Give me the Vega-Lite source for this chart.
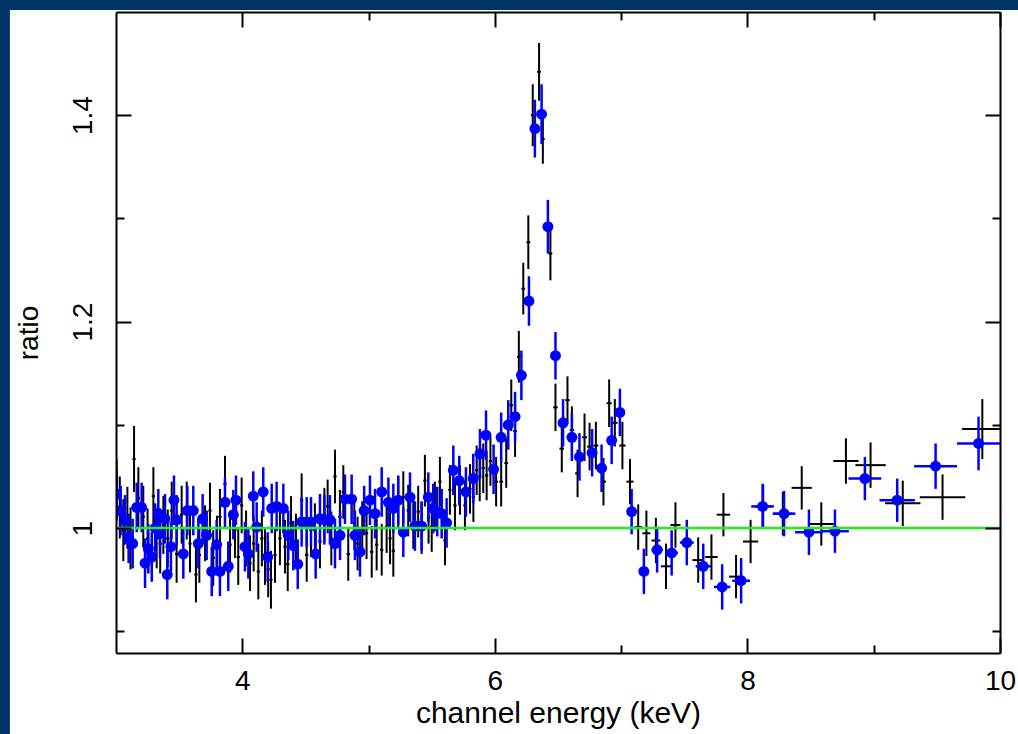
{
  "$schema": "https://vega.github.io/schema/vega-lite/v6.json",
  "autosize": {"type": "none"},
  "width": 884,
  "height": 641,
  "padding": {"left": 116, "top": 12, "right": 18, "bottom": 81},
  "background": "#003366",
  "config": {
    "view": {"stroke": null},
    "axis": {
      "labelFont": "Liberation Sans", "labelFontSize": 28, "labelColor": "black",
      "titleFont": "Liberation Sans", "titleFontSize": 28, "titleFontWeight": "normal", "titleColor": "black",
      "domainColor": "black", "domainWidth": 2, "tickColor": "black", "tickWidth": 2,
      "grid": false, "zindex": 2
    }
  },
  "datasets": {
    "black": [
      {"x":3.005,"xe":0.013,"y":1.037,"ye":0.03},
      {"x":3.03,"xe":0.013,"y":1.02,"ye":0.03},
      {"x":3.058,"xe":0.013,"y":0.998,"ye":0.03},
      {"x":3.09,"xe":0.013,"y":1.01,"ye":0.03},
      {"x":3.115,"xe":0.013,"y":0.99,"ye":0.03},
      {"x":3.143,"xe":0.013,"y":1.067,"ye":0.032},
      {"x":3.177,"xe":0.013,"y":1.029,"ye":0.03},
      {"x":3.216,"xe":0.013,"y":1.011,"ye":0.03},
      {"x":3.25,"xe":0.013,"y":0.99,"ye":0.029},
      {"x":3.296,"xe":0.013,"y":1.031,"ye":0.028},
      {"x":3.322,"xe":0.013,"y":0.99,"ye":0.029},
      {"x":3.35,"xe":0.013,"y":0.985,"ye":0.029},
      {"x":3.375,"xe":0.013,"y":1.003,"ye":0.028},
      {"x":3.41,"xe":0.013,"y":0.99,"ye":0.028},
      {"x":3.441,"xe":0.013,"y":1.017,"ye":0.028},
      {"x":3.48,"xe":0.013,"y":0.975,"ye":0.028},
      {"x":3.52,"xe":0.013,"y":1.013,"ye":0.028},
      {"x":3.56,"xe":0.013,"y":1.017,"ye":0.028},
      {"x":3.586,"xe":0.013,"y":0.985,"ye":0.028},
      {"x":3.633,"xe":0.013,"y":0.955,"ye":0.027},
      {"x":3.66,"xe":0.013,"y":0.974,"ye":0.027},
      {"x":3.705,"xe":0.013,"y":0.995,"ye":0.027},
      {"x":3.744,"xe":0.013,"y":1.017,"ye":0.027},
      {"x":3.77,"xe":0.013,"y":0.971,"ye":0.027},
      {"x":3.8,"xe":0.013,"y":0.985,"ye":0.027},
      {"x":3.823,"xe":0.013,"y":1.011,"ye":0.027},
      {"x":3.863,"xe":0.013,"y":1.043,"ye":0.027},
      {"x":3.903,"xe":0.013,"y":0.984,"ye":0.027},
      {"x":3.942,"xe":0.013,"y":0.998,"ye":0.027},
      {"x":3.968,"xe":0.013,"y":0.972,"ye":0.027},
      {"x":3.995,"xe":0.013,"y":1.022,"ye":0.027},
      {"x":4.03,"xe":0.013,"y":0.99,"ye":0.027},
      {"x":4.061,"xe":0.013,"y":0.966,"ye":0.027},
      {"x":4.09,"xe":0.013,"y":0.985,"ye":0.027},
      {"x":4.127,"xe":0.013,"y":0.958,"ye":0.027},
      {"x":4.155,"xe":0.013,"y":0.99,"ye":0.027},
      {"x":4.18,"xe":0.013,"y":0.972,"ye":0.027},
      {"x":4.205,"xe":0.013,"y":0.96,"ye":0.027},
      {"x":4.227,"xe":0.013,"y":0.95,"ye":0.028},
      {"x":4.259,"xe":0.013,"y":0.974,"ye":0.027},
      {"x":4.298,"xe":0.013,"y":0.99,"ye":0.026},
      {"x":4.338,"xe":0.013,"y":0.982,"ye":0.026},
      {"x":4.36,"xe":0.013,"y":0.965,"ye":0.026},
      {"x":4.386,"xe":0.013,"y":1.005,"ye":0.026},
      {"x":4.425,"xe":0.013,"y":0.988,"ye":0.026},
      {"x":4.47,"xe":0.013,"y":1.027,"ye":0.026},
      {"x":4.51,"xe":0.013,"y":0.974,"ye":0.026},
      {"x":4.544,"xe":0.013,"y":0.998,"ye":0.026},
      {"x":4.575,"xe":0.013,"y":0.998,"ye":0.026},
      {"x":4.615,"xe":0.013,"y":0.987,"ye":0.026},
      {"x":4.65,"xe":0.013,"y":1.013,"ye":0.026},
      {"x":4.676,"xe":0.013,"y":1.021,"ye":0.026},
      {"x":4.705,"xe":0.013,"y":0.99,"ye":0.026},
      {"x":4.734,"xe":0.013,"y":1.05,"ye":0.026},
      {"x":4.773,"xe":0.013,"y":1.011,"ye":0.026},
      {"x":4.8,"xe":0.013,"y":1.035,"ye":0.026},
      {"x":4.839,"xe":0.013,"y":0.975,"ye":0.026},
      {"x":4.887,"xe":0.013,"y":1.005,"ye":0.026},
      {"x":4.913,"xe":0.013,"y":0.985,"ye":0.026},
      {"x":4.95,"xe":0.013,"y":1.0,"ye":0.026},
      {"x":4.984,"xe":0.013,"y":0.995,"ye":0.025},
      {"x":5.025,"xe":0.013,"y":0.977,"ye":0.025},
      {"x":5.064,"xe":0.013,"y":0.984,"ye":0.025},
      {"x":5.104,"xe":0.013,"y":0.979,"ye":0.025},
      {"x":5.143,"xe":0.013,"y":1.001,"ye":0.025},
      {"x":5.17,"xe":0.013,"y":0.99,"ye":0.025},
      {"x":5.196,"xe":0.013,"y":0.978,"ye":0.025},
      {"x":5.235,"xe":0.013,"y":1.024,"ye":0.025},
      {"x":5.275,"xe":0.013,"y":1.03,"ye":0.025},
      {"x":5.314,"xe":0.013,"y":1.017,"ye":0.025},
      {"x":5.354,"xe":0.013,"y":1.005,"ye":0.025},
      {"x":5.393,"xe":0.013,"y":1.016,"ye":0.025},
      {"x":5.42,"xe":0.013,"y":1.0,"ye":0.025},
      {"x":5.446,"xe":0.013,"y":1.046,"ye":0.025},
      {"x":5.475,"xe":0.013,"y":1.01,"ye":0.025},
      {"x":5.5,"xe":0.013,"y":1.001,"ye":0.024},
      {"x":5.525,"xe":0.013,"y":1.021,"ye":0.024},
      {"x":5.565,"xe":0.013,"y":1.045,"ye":0.024},
      {"x":5.605,"xe":0.013,"y":0.988,"ye":0.024},
      {"x":5.644,"xe":0.013,"y":1.037,"ye":0.024},
      {"x":5.684,"xe":0.013,"y":1.022,"ye":0.024},
      {"x":5.724,"xe":0.013,"y":1.037,"ye":0.024},
      {"x":5.763,"xe":0.013,"y":1.022,"ye":0.024},
      {"x":5.803,"xe":0.013,"y":1.038,"ye":0.024},
      {"x":5.83,"xe":0.013,"y":1.03,"ye":0.024},
      {"x":5.856,"xe":0.013,"y":1.056,"ye":0.024},
      {"x":5.88,"xe":0.013,"y":1.05,"ye":0.024},
      {"x":5.908,"xe":0.013,"y":1.058,"ye":0.024},
      {"x":5.935,"xe":0.013,"y":1.051,"ye":0.024},
      {"x":5.965,"xe":0.013,"y":1.065,"ye":0.024},
      {"x":6.01,"xe":0.015,"y":1.045,"ye":0.024},
      {"x":6.05,"xe":0.015,"y":1.045,"ye":0.024},
      {"x":6.09,"xe":0.015,"y":1.063,"ye":0.024},
      {"x":6.13,"xe":0.015,"y":1.119,"ye":0.025},
      {"x":6.16,"xe":0.015,"y":1.094,"ye":0.025},
      {"x":6.19,"xe":0.015,"y":1.166,"ye":0.025},
      {"x":6.225,"xe":0.015,"y":1.232,"ye":0.025},
      {"x":6.265,"xe":0.015,"y":1.277,"ye":0.026},
      {"x":6.3,"xe":0.015,"y":1.4,"ye":0.03},
      {"x":6.35,"xe":0.015,"y":1.442,"ye":0.028},
      {"x":6.38,"xe":0.015,"y":1.377,"ye":0.024},
      {"x":6.44,"xe":0.015,"y":1.266,"ye":0.026},
      {"x":6.48,"xe":0.018,"y":1.117,"ye":0.023},
      {"x":6.53,"xe":0.018,"y":1.077,"ye":0.023},
      {"x":6.575,"xe":0.018,"y":1.124,"ye":0.023},
      {"x":6.61,"xe":0.018,"y":1.095,"ye":0.023},
      {"x":6.655,"xe":0.02,"y":1.053,"ye":0.023},
      {"x":6.71,"xe":0.02,"y":1.088,"ye":0.023},
      {"x":6.75,"xe":0.02,"y":1.079,"ye":0.023},
      {"x":6.8,"xe":0.02,"y":1.08,"ye":0.023},
      {"x":6.86,"xe":0.02,"y":1.045,"ye":0.023},
      {"x":6.905,"xe":0.02,"y":1.121,"ye":0.023},
      {"x":6.95,"xe":0.022,"y":1.102,"ye":0.023},
      {"x":7.01,"xe":0.025,"y":1.08,"ye":0.023},
      {"x":7.07,"xe":0.028,"y":1.045,"ye":0.022},
      {"x":7.135,"xe":0.03,"y":1.001,"ye":0.022},
      {"x":7.2,"xe":0.032,"y":0.995,"ye":0.022},
      {"x":7.275,"xe":0.035,"y":0.988,"ye":0.022},
      {"x":7.355,"xe":0.04,"y":0.963,"ye":0.022},
      {"x":7.43,"xe":0.04,"y":1.003,"ye":0.022},
      {"x":7.61,"xe":0.045,"y":0.969,"ye":0.022},
      {"x":7.715,"xe":0.05,"y":0.972,"ye":0.022},
      {"x":7.81,"xe":0.053,"y":1.013,"ye":0.021},
      {"x":7.91,"xe":0.055,"y":0.953,"ye":0.021},
      {"x":8.025,"xe":0.06,"y":0.987,"ye":0.021},
      {"x":8.125,"xe":0.065,"y":1.021,"ye":0.021},
      {"x":8.28,"xe":0.075,"y":1.014,"ye":0.021},
      {"x":8.43,"xe":0.08,"y":1.039,"ye":0.021},
      {"x":8.585,"xe":0.1,"y":1.004,"ye":0.021},
      {"x":8.78,"xe":0.1,"y":1.065,"ye":0.022},
      {"x":8.975,"xe":0.12,"y":1.061,"ye":0.022},
      {"x":9.23,"xe":0.14,"y":1.024,"ye":0.022},
      {"x":9.545,"xe":0.18,"y":1.03,"ye":0.022},
      {"x":9.86,"xe":0.16,"y":1.096,"ye":0.029}
    ],
    "blue": [
      {"x":3.005,"xe":0.012,"y":1.033,"ye":0.024},
      {"x":3.037,"xe":0.012,"y":1.017,"ye":0.024},
      {"x":3.071,"xe":0.012,"y":1.008,"ye":0.024},
      {"x":3.1,"xe":0.012,"y":0.99,"ye":0.024},
      {"x":3.132,"xe":0.012,"y":0.985,"ye":0.024},
      {"x":3.164,"xe":0.012,"y":1.02,"ye":0.024},
      {"x":3.203,"xe":0.012,"y":1.02,"ye":0.024},
      {"x":3.23,"xe":0.012,"y":0.966,"ye":0.024},
      {"x":3.256,"xe":0.012,"y":0.98,"ye":0.024},
      {"x":3.283,"xe":0.012,"y":0.972,"ye":0.024},
      {"x":3.31,"xe":0.012,"y":1.0,"ye":0.024},
      {"x":3.335,"xe":0.012,"y":1.014,"ye":0.024},
      {"x":3.348,"xe":0.012,"y":0.995,"ye":0.024},
      {"x":3.388,"xe":0.012,"y":1.009,"ye":0.024},
      {"x":3.406,"xe":0.012,"y":0.955,"ye":0.024},
      {"x":3.435,"xe":0.012,"y":0.982,"ye":0.024},
      {"x":3.459,"xe":0.012,"y":1.027,"ye":0.024},
      {"x":3.48,"xe":0.012,"y":1.008,"ye":0.024},
      {"x":3.533,"xe":0.012,"y":0.975,"ye":0.024},
      {"x":3.565,"xe":0.012,"y":1.017,"ye":0.024},
      {"x":3.612,"xe":0.012,"y":1.017,"ye":0.024},
      {"x":3.652,"xe":0.012,"y":0.985,"ye":0.024},
      {"x":3.686,"xe":0.012,"y":1.009,"ye":0.024},
      {"x":3.718,"xe":0.012,"y":0.993,"ye":0.024},
      {"x":3.758,"xe":0.012,"y":0.958,"ye":0.024},
      {"x":3.797,"xe":0.012,"y":0.984,"ye":0.024},
      {"x":3.823,"xe":0.012,"y":0.958,"ye":0.024},
      {"x":3.863,"xe":0.012,"y":1.025,"ye":0.024},
      {"x":3.889,"xe":0.012,"y":0.963,"ye":0.024},
      {"x":3.929,"xe":0.012,"y":1.013,"ye":0.024},
      {"x":3.95,"xe":0.012,"y":1.027,"ye":0.024},
      {"x":4.021,"xe":0.012,"y":0.982,"ye":0.024},
      {"x":4.048,"xe":0.012,"y":0.975,"ye":0.024},
      {"x":4.087,"xe":0.012,"y":1.031,"ye":0.024},
      {"x":4.114,"xe":0.012,"y":1.001,"ye":0.024},
      {"x":4.166,"xe":0.012,"y":1.035,"ye":0.024},
      {"x":4.201,"xe":0.012,"y":0.972,"ye":0.024},
      {"x":4.233,"xe":0.012,"y":1.019,"ye":0.024},
      {"x":4.272,"xe":0.012,"y":1.021,"ye":0.024},
      {"x":4.325,"xe":0.012,"y":1.019,"ye":0.024},
      {"x":4.364,"xe":0.012,"y":0.993,"ye":0.024},
      {"x":4.404,"xe":0.012,"y":0.983,"ye":0.024},
      {"x":4.439,"xe":0.012,"y":0.965,"ye":0.024},
      {"x":4.47,"xe":0.012,"y":1.006,"ye":0.024},
      {"x":4.51,"xe":0.012,"y":1.006,"ye":0.024},
      {"x":4.544,"xe":0.012,"y":1.006,"ye":0.024},
      {"x":4.581,"xe":0.012,"y":0.975,"ye":0.024},
      {"x":4.615,"xe":0.012,"y":1.009,"ye":0.024},
      {"x":4.65,"xe":0.012,"y":1.008,"ye":0.024},
      {"x":4.694,"xe":0.012,"y":1.008,"ye":0.024},
      {"x":4.734,"xe":0.012,"y":0.985,"ye":0.024},
      {"x":4.774,"xe":0.012,"y":0.993,"ye":0.024},
      {"x":4.813,"xe":0.012,"y":1.028,"ye":0.024},
      {"x":4.866,"xe":0.012,"y":1.028,"ye":0.024},
      {"x":4.892,"xe":0.012,"y":0.993,"ye":0.024},
      {"x":4.932,"xe":0.012,"y":0.977,"ye":0.024},
      {"x":4.965,"xe":0.012,"y":1.017,"ye":0.024},
      {"x":5.011,"xe":0.012,"y":1.027,"ye":0.024},
      {"x":5.051,"xe":0.012,"y":1.014,"ye":0.024},
      {"x":5.104,"xe":0.012,"y":1.035,"ye":0.024},
      {"x":5.157,"xe":0.012,"y":1.025,"ye":0.024},
      {"x":5.196,"xe":0.012,"y":1.019,"ye":0.024},
      {"x":5.235,"xe":0.012,"y":1.027,"ye":0.024},
      {"x":5.275,"xe":0.012,"y":0.996,"ye":0.024},
      {"x":5.328,"xe":0.012,"y":1.03,"ye":0.024},
      {"x":5.367,"xe":0.012,"y":1.002,"ye":0.024},
      {"x":5.42,"xe":0.012,"y":1.002,"ye":0.024},
      {"x":5.473,"xe":0.012,"y":1.03,"ye":0.024},
      {"x":5.512,"xe":0.012,"y":1.019,"ye":0.024},
      {"x":5.544,"xe":0.012,"y":1.016,"ye":0.024},
      {"x":5.579,"xe":0.012,"y":1.014,"ye":0.024},
      {"x":5.618,"xe":0.012,"y":1.005,"ye":0.024},
      {"x":5.671,"xe":0.012,"y":1.056,"ye":0.024},
      {"x":5.718,"xe":0.012,"y":1.046,"ye":0.024},
      {"x":5.771,"xe":0.012,"y":1.035,"ye":0.024},
      {"x":5.829,"xe":0.012,"y":1.048,"ye":0.024},
      {"x":5.882,"xe":0.012,"y":1.072,"ye":0.024},
      {"x":5.93,"xe":0.012,"y":1.09,"ye":0.024},
      {"x":5.99,"xe":0.015,"y":1.057,"ye":0.024},
      {"x":6.05,"xe":0.015,"y":1.088,"ye":0.024},
      {"x":6.106,"xe":0.015,"y":1.1,"ye":0.024},
      {"x":6.16,"xe":0.015,"y":1.108,"ye":0.024},
      {"x":6.21,"xe":0.015,"y":1.148,"ye":0.024},
      {"x":6.27,"xe":0.015,"y":1.22,"ye":0.024},
      {"x":6.317,"xe":0.015,"y":1.387,"ye":0.028},
      {"x":6.37,"xe":0.015,"y":1.401,"ye":0.029},
      {"x":6.42,"xe":0.015,"y":1.292,"ye":0.026},
      {"x":6.48,"xe":0.018,"y":1.167,"ye":0.023},
      {"x":6.54,"xe":0.02,"y":1.102,"ye":0.023},
      {"x":6.61,"xe":0.02,"y":1.088,"ye":0.023},
      {"x":6.67,"xe":0.022,"y":1.069,"ye":0.023},
      {"x":6.77,"xe":0.025,"y":1.073,"ye":0.023},
      {"x":6.845,"xe":0.025,"y":1.058,"ye":0.023},
      {"x":6.925,"xe":0.025,"y":1.085,"ye":0.023},
      {"x":6.99,"xe":0.028,"y":1.112,"ye":0.023},
      {"x":7.083,"xe":0.03,"y":1.016,"ye":0.022},
      {"x":7.18,"xe":0.04,"y":0.958,"ye":0.022},
      {"x":7.285,"xe":0.045,"y":0.979,"ye":0.022},
      {"x":7.4,"xe":0.05,"y":0.976,"ye":0.022},
      {"x":7.52,"xe":0.055,"y":0.986,"ye":0.022},
      {"x":7.65,"xe":0.06,"y":0.963,"ye":0.022},
      {"x":7.8,"xe":0.065,"y":0.943,"ye":0.022},
      {"x":7.95,"xe":0.07,"y":0.949,"ye":0.022},
      {"x":8.12,"xe":0.09,"y":1.021,"ye":0.022},
      {"x":8.29,"xe":0.09,"y":1.014,"ye":0.022},
      {"x":8.487,"xe":0.11,"y":0.996,"ye":0.022},
      {"x":8.693,"xe":0.11,"y":0.997,"ye":0.021},
      {"x":8.93,"xe":0.13,"y":1.048,"ye":0.021},
      {"x":9.186,"xe":0.14,"y":1.027,"ye":0.021},
      {"x":9.49,"xe":0.17,"y":1.06,"ye":0.022},
      {"x":9.83,"xe":0.17,"y":1.082,"ye":0.026}
    ]
  },
  "resolve": {"axis": {"x": "independent", "y": "independent"}},
  "layer": [
    {
      "data": {"values": [{}]},
      "mark": {"type": "rect", "color": "white"},
      "encoding": {
        "x": {"datum": 2.16, "type": "quantitative",
              "scale": {"domain": [3, 10], "nice": false, "zero": false},
              "axis": {"orient": "bottom", "values": [4, 6, 8, 10], "format": "d", "zindex": 2,
                       "tickSize": -15, "labelPadding": 29, "labelFlush": false, "labelOverlap": false,
                       "title": "channel energy (keV)", "titleFontSize": 30, "titlePadding": 3}},
        "x2": {"datum": 10.4},
        "y": {"datum": 1.502, "type": "quantitative",
              "scale": {"domain": [0.879, 1.5], "nice": false, "zero": false},
              "axis": {"orient": "left", "values": [1, 1.2, 1.4], "format": "~g", "zindex": 2,
                       "tickSize": -15, "labelAngle": -90, "labelPadding": 34, "labelFlush": false, "labelOverlap": false,
                       "title": "ratio", "titlePadding": 26}},
        "y2": {"datum": 0.6}
      }
    },
    {
      "data": {"name": "black"},
      "mark": {"type": "point", "opacity": 0},
      "encoding": {
        "x": {"field": "x", "type": "quantitative",
              "axis": {"orient": "bottom", "values": [5, 7, 9], "labels": false, "title": null, "tickSize": -8, "domain": false, "zindex": 2}},
        "y": {"field": "y", "type": "quantitative",
              "axis": {"orient": "left", "values": [0.9, 1.1, 1.3], "labels": false, "title": null, "tickSize": -8, "domain": false, "zindex": 2}}
      }
    },
    {
      "data": {"name": "black"},
      "mark": {"type": "errorbar", "color": "black", "thickness": 2, "clip": true},
      "encoding": {
        "x": {"field": "x", "type": "quantitative", "axis": null},
        "y": {"field": "y", "type": "quantitative", "axis": null},
        "yError": {"field": "ye"}
      }
    },
    {
      "data": {"name": "black"},
      "mark": {"type": "errorbar", "color": "black", "thickness": 2, "clip": true},
      "encoding": {
        "x": {"field": "x", "type": "quantitative", "axis": null},
        "xError": {"field": "xe"},
        "y": {"field": "y", "type": "quantitative", "axis": null}
      }
    },
    {
      "data": {"name": "blue"},
      "mark": {"type": "errorbar", "color": "#0000ff", "thickness": 2.5, "clip": true},
      "encoding": {
        "x": {"field": "x", "type": "quantitative", "axis": null},
        "y": {"field": "y", "type": "quantitative", "axis": null},
        "yError": {"field": "ye"}
      }
    },
    {
      "data": {"name": "blue"},
      "mark": {"type": "errorbar", "color": "#0000ff", "thickness": 2.5, "clip": true},
      "encoding": {
        "x": {"field": "x", "type": "quantitative", "axis": null},
        "xError": {"field": "xe"},
        "y": {"field": "y", "type": "quantitative", "axis": null}
      }
    },
    {
      "data": {"name": "blue"},
      "mark": {"type": "point", "filled": true, "color": "#0000ff", "opacity": 1, "size": 120, "clip": true},
      "encoding": {
        "x": {"field": "x", "type": "quantitative",
              "axis": {"orient": "top", "values": [4, 6, 8, 10], "labels": false, "title": null, "tickSize": -15, "zindex": 2}},
        "y": {"field": "y", "type": "quantitative",
              "axis": {"orient": "right", "values": [1, 1.2, 1.4], "labels": false, "title": null, "tickSize": -15, "zindex": 2}}
      }
    },
    {
      "data": {"name": "blue"},
      "mark": {"type": "point", "opacity": 0},
      "encoding": {
        "x": {"field": "x", "type": "quantitative",
              "axis": {"orient": "top", "values": [5, 7, 9], "labels": false, "title": null, "tickSize": -8, "domain": false, "zindex": 2}},
        "y": {"field": "y", "type": "quantitative",
              "axis": {"orient": "right", "values": [0.9, 1.1, 1.3], "labels": false, "title": null, "tickSize": -8, "domain": false, "zindex": 2}}
      }
    },
    {
      "data": {"values": [{}]},
      "mark": {"type": "rule", "color": "#1ef01e", "strokeWidth": 2.5},
      "encoding": {
        "y": {"datum": 1, "type": "quantitative", "axis": null}
      }
    }
  ]
}
